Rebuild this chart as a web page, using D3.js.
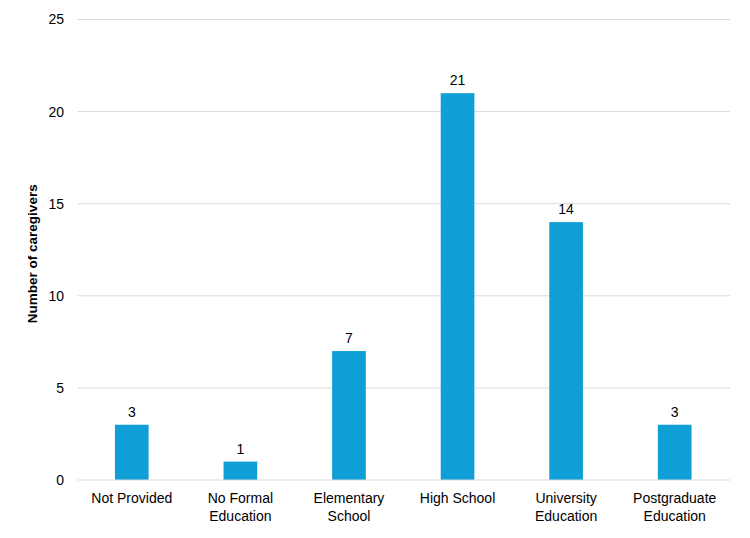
<!DOCTYPE html>
<html>
<head>
<meta charset="utf-8">
<script src="https://d3js.org/d3.v7.min.js"></script>
<style>
  body { margin: 0; background: #fff; font-family: "Liberation Sans", "DejaVu Sans", sans-serif; }
  .grid line { stroke: #d9d9d9; stroke-width: 1; }
</style>
</head>
<body>
<script>
// Data
var categories = ["Not Provided", "No Formal Education", "Elementary School", "High School", "University Education", "Postgraduate Education"];
var labelLines = [["Not Provided"], ["No Formal", "Education"], ["Elementary", "School"], ["High School"], ["University", "Education"], ["Postgraduate", "Education"]];
var counts = [3, 1, 7, 21, 14, 3];
var yTicks = [0, 5, 10, 15, 20, 25];

var W = 750, H = 538;
var plotLeft = 77.5, plotRight = 729, plotTop = 19.5, plotBottom = 480;

var svg = d3.select("body").append("svg")
    .attr("width", W).attr("height", H);

var x = d3.scaleBand().domain(categories).range([plotLeft, plotRight]).paddingInner(0.69).paddingOuter(0.345);
var y = d3.scaleLinear().domain([0, 25]).range([plotBottom, plotTop]);

// gridlines
svg.append("g").attr("class", "grid")
  .selectAll("line").data(yTicks.filter(function(t){ return t > 0; }))
  .join("line")
    .attr("x1", plotLeft).attr("x2", 730)
    .attr("y1", function(d){ return y(d); }).attr("y2", function(d){ return y(d); });

// y labels
svg.append("g").selectAll("text").data(yTicks).join("text")
    .attr("x", 64).attr("y", function(d){ return y(d); })
    .attr("dy", "0.35em").attr("text-anchor", "end")
    .style("font-size", "14px")
    .text(function(d){ return d; });

// bars
svg.append("g").selectAll("rect").data(counts).join("rect")
    .attr("x", function(d, i){ return x(categories[i]); })
    .attr("width", x.bandwidth())
    .attr("y", function(d){ return y(d); })
    .attr("height", function(d){ return plotBottom - y(d); })
    .attr("fill", "#0f9ed5");

// value labels
svg.append("g").selectAll("text").data(counts).join("text")
    .attr("x", function(d, i){ return x(categories[i]) + x.bandwidth() / 2; })
    .attr("y", function(d){ return y(d) - 8; })
    .attr("text-anchor", "middle")
    .style("font-size", "14px")
    .text(function(d){ return d; });

// baseline
svg.append("line")
    .attr("x1", plotLeft).attr("x2", 730)
    .attr("y1", plotBottom).attr("y2", plotBottom)
    .attr("stroke", "#d9d9d9");

// x labels
var xl = svg.append("g").selectAll("text").data(labelLines).join("text")
    .attr("x", function(d, i){ return x(categories[i]) + x.bandwidth() / 2; })
    .attr("y", 503)
    .attr("text-anchor", "middle")
    .style("font-size", "14px");
xl.selectAll("tspan").data(function(d){ return d; }).join("tspan")
    .attr("x", function(){ return this.parentNode.getAttribute("x"); })
    .attr("dy", function(d, i){ return i === 0 ? 0 : 18; })
    .text(function(d){ return d; });

// y axis title
svg.append("text")
    .attr("transform", "translate(37," + ((plotTop + plotBottom) / 2 + 4) + ") rotate(-90)")
    .attr("text-anchor", "middle")
    .style("font-size", "13.5px").style("font-weight", "bold")
    .text("Number of caregivers");
</script>
</body>
</html>
